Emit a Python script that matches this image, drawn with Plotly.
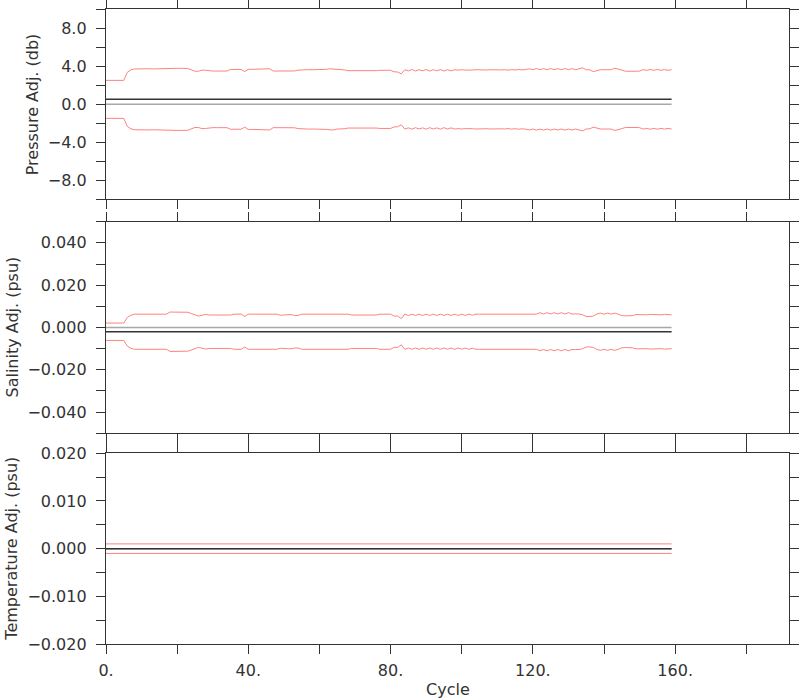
import plotly.graph_objects as go

# ---------------- data ----------------
cycles = list(range(0, 160))

pres_adj = 0.52
pres_err = [
    2.00, 2.00, 2.00, 2.00, 2.00, 2.00, 2.85, 3.10, 3.20, 3.22,
    3.22, 3.21, 3.22, 3.20, 3.22, 3.23, 3.24, 3.25, 3.27, 3.27,
    3.27, 3.27, 3.27, 3.25, 3.10, 2.96, 2.96, 3.08, 3.06, 2.98,
    2.98, 2.98, 2.99, 2.98, 2.98, 3.15, 3.16, 3.15, 3.14, 2.92,
    3.17, 3.16, 3.17, 3.22, 3.22, 3.23, 3.22, 2.98, 2.98, 2.97,
    2.98, 2.98, 2.98, 2.99, 3.08, 3.12, 3.12, 3.13, 3.12, 3.12,
    3.12, 3.15, 3.16, 3.22, 3.21, 3.12, 3.12, 3.10, 3.02, 3.02,
    3.04, 3.00, 2.98, 2.98, 3.00, 3.00, 3.02, 3.06, 3.08, 3.08,
    3.06, 2.90, 2.88, 2.68, 3.12, 3.00, 3.14, 2.98, 3.12, 3.00,
    3.14, 2.98, 3.12, 3.00, 3.14, 2.98, 3.12, 3.00, 3.12, 3.08,
    3.12, 3.08, 3.12, 3.09, 3.12, 3.10, 3.12, 3.09, 3.12, 3.10,
    3.12, 3.10, 3.12, 3.08, 3.13, 3.09, 3.14, 3.10, 3.14, 3.22,
    3.12, 3.24, 3.13, 3.23, 3.12, 3.24, 3.13, 3.23, 3.12, 3.24,
    3.13, 3.23, 3.12, 3.20, 3.32, 3.12, 3.10, 2.92, 3.02, 3.12,
    3.12, 3.14, 3.12, 3.28, 3.14, 3.08, 2.96, 2.94, 2.95, 2.96,
    2.98, 3.13, 3.06, 3.14, 3.06, 3.14, 3.06, 3.13, 3.06, 3.12,
]

sal_adj = -0.002
sal_err = [
    0.0041, 0.0041, 0.0041, 0.0041, 0.0041, 0.0041, 0.0068, 0.0078, 0.0083, 0.0083,
    0.0083, 0.0083, 0.0083, 0.0083, 0.0083, 0.0083, 0.0083, 0.0083, 0.0093, 0.0093,
    0.0093, 0.0093, 0.0093, 0.0092, 0.0086, 0.0080, 0.0074, 0.0078, 0.0082, 0.0079,
    0.0079, 0.0079, 0.0079, 0.0079, 0.0079, 0.0079, 0.0083, 0.0083, 0.0083, 0.0072,
    0.0083, 0.0083, 0.0083, 0.0083, 0.0083, 0.0083, 0.0083, 0.0083, 0.0083, 0.0078,
    0.0078, 0.0081, 0.0081, 0.0077, 0.0077, 0.0083, 0.0083, 0.0083, 0.0083, 0.0083,
    0.0083, 0.0083, 0.0083, 0.0083, 0.0083, 0.0083, 0.0083, 0.0083, 0.0083, 0.0079,
    0.0079, 0.0079, 0.0079, 0.0079, 0.0079, 0.0079, 0.0079, 0.0083, 0.0083, 0.0083,
    0.0083, 0.0074, 0.0074, 0.0062, 0.0083, 0.0077, 0.0083, 0.0077, 0.0083, 0.0077,
    0.0083, 0.0077, 0.0083, 0.0077, 0.0083, 0.0077, 0.0083, 0.0077, 0.0083, 0.0077,
    0.0083, 0.0077, 0.0083, 0.0078, 0.0083, 0.0083, 0.0083, 0.0083, 0.0083, 0.0083,
    0.0083, 0.0083, 0.0083, 0.0083, 0.0083, 0.0083, 0.0083, 0.0083, 0.0083, 0.0083,
    0.0083, 0.0083, 0.0090, 0.0084, 0.0090, 0.0084, 0.0090, 0.0084, 0.0090, 0.0084,
    0.0090, 0.0084, 0.0084, 0.0084, 0.0080, 0.0072, 0.0072, 0.0074, 0.0084, 0.0088,
    0.0083, 0.0088, 0.0083, 0.0088, 0.0083, 0.0076, 0.0075, 0.0075, 0.0076, 0.0081,
    0.0080, 0.0082, 0.0080, 0.0082, 0.0081, 0.0082, 0.0080, 0.0082, 0.0081, 0.0080,
]

temp_adj = 0.0
temp_err = 0.001

x_tickvals = [0, 20, 40, 60, 80, 100, 120, 140, 160, 180]
x_ticktext = ["0.", "", "40.", "", "80.", "", "120.", "", "160.", ""]

p_tickvals = [-10, -8, -6, -4, -2, 0, 2, 4, 6, 8, 10]
p_ticktext = ["", "\u22128.0", "", "\u22124.0", "", "0.0", "", "4.0", "", "8.0", ""]

s_tickvals = [-0.05, -0.04, -0.03, -0.02, -0.01, 0.0, 0.01, 0.02, 0.03, 0.04, 0.05]
s_ticktext = ["", "\u22120.040", "", "\u22120.020", "", "0.000", "", "0.020", "", "0.040", ""]

t_tickvals = [-0.02, -0.015, -0.01, -0.005, 0.0, 0.005, 0.01, 0.015, 0.02]
t_ticktext = ["\u22120.020", "", "\u22120.010", "", "0.000", "", "0.010", "", "0.020"]

panel_titles = ["Pressure Adj. (db)", "Salinity Adj. (psu)", "Temperature Adj. (psu)"]
x_title = "Cycle"

# ---------------- styling ----------------
RED = "#ff8080"
DARK = "#333333"
GRAY = "#a8a8a8"
FONT = "DejaVu Sans"
FS = 16

fig = go.Figure()

panels = [
    ("x", "y", pres_adj, pres_err),
    ("x2", "y2", sal_adj, sal_err),
    ("x3", "y3", temp_adj, [temp_err for _ in cycles]),
]

for xa, ya, adj, err in panels:
    zero = [0.0 for _ in cycles]
    adjv = [adj for _ in cycles]
    upper = [adj + e for e in err]
    lower = [adj - e for e in err]
    fig.add_trace(go.Scatter(x=cycles, y=zero, mode="lines", xaxis=xa, yaxis=ya,
                             line=dict(color=GRAY, width=1.5), showlegend=False, hoverinfo="skip"))
    fig.add_trace(go.Scatter(x=cycles, y=upper, mode="lines", xaxis=xa, yaxis=ya,
                             line=dict(color=RED, width=1), showlegend=False))
    fig.add_trace(go.Scatter(x=cycles, y=lower, mode="lines", xaxis=xa, yaxis=ya,
                             line=dict(color=RED, width=1), showlegend=False))
    fig.add_trace(go.Scatter(x=cycles, y=adjv, mode="lines", xaxis=xa, yaxis=ya,
                             line=dict(color=DARK, width=1.5), showlegend=False))

H, W = 700, 800
ML, MR, MT, MB = 106, 11, 9, 56
ph = H - MT - MB
pw = W - ML - MR


def dom(top_px, bot_px):
    lo = (H - MB - bot_px) / ph
    hi = (H - MB - top_px) / ph
    return [max(0.0, lo), min(1.0, hi)]


d1 = dom(9.3, 199.3)
d2 = dom(221.7, 433.3)
d3 = dom(453.3, 644)

axis_common = dict(showline=True, linecolor=DARK, linewidth=1.3, mirror="ticks",
                   ticks="outside", ticklen=9, tickwidth=1.3, tickcolor=DARK,
                   showgrid=False, zeroline=False, automargin=False,
                   tickfont=dict(family=FONT, size=FS, color=DARK))

xcommon = dict(axis_common, range=[0, 192], tickmode="array", tickvals=x_tickvals,
               ticktext=x_ticktext)

fig.update_layout(
    width=W, height=H,
    margin=dict(l=ML, r=MR, t=MT, b=MB, pad=0, autoexpand=False),
    paper_bgcolor="white", plot_bgcolor="white",
    font=dict(family=FONT, size=FS, color=DARK),
    xaxis=dict(xcommon, anchor="y", showticklabels=False),
    xaxis2=dict(xcommon, anchor="y2", showticklabels=False),
    xaxis3=dict(xcommon, anchor="y3", showticklabels=True, ticklabelstandoff=3),
    yaxis=dict(axis_common, domain=d1, anchor="x", range=[-10, 10], tickmode="array",
               tickvals=p_tickvals, ticktext=p_ticktext, ticklabelstandoff=6),
    yaxis2=dict(axis_common, domain=d2, anchor="x2", range=[-0.05, 0.05], tickmode="array",
                tickvals=s_tickvals, ticktext=s_ticktext, ticklabelstandoff=6),
    yaxis3=dict(axis_common, domain=d3, anchor="x3", range=[-0.02, 0.02], tickmode="array",
                tickvals=t_tickvals, ticktext=t_ticktext, ticklabelstandoff=6),
)

title_x_px = [32, 12, 12]
for title, d, xp in zip(panel_titles, [d1, d2, d3], title_x_px):
    fig.add_annotation(text=title, xref="paper", yref="paper",
                       x=(xp - ML) / pw, y=(d[0] + d[1]) / 2,
                       xanchor="center", yanchor="middle", textangle=-90,
                       showarrow=False, font=dict(family=FONT, size=FS, color=DARK))

fig.add_annotation(text=x_title, xref="paper", yref="paper",
                   x=0.5, y=(H - MB - 689) / ph, xanchor="center", yanchor="middle",
                   showarrow=False, font=dict(family=FONT, size=FS, color=DARK))

fig.write_html(
    "out.html",
    config={"displayModeBar": False},
    post_script="document.body.style.margin='0px';document.body.style.overflow='hidden';",
)
